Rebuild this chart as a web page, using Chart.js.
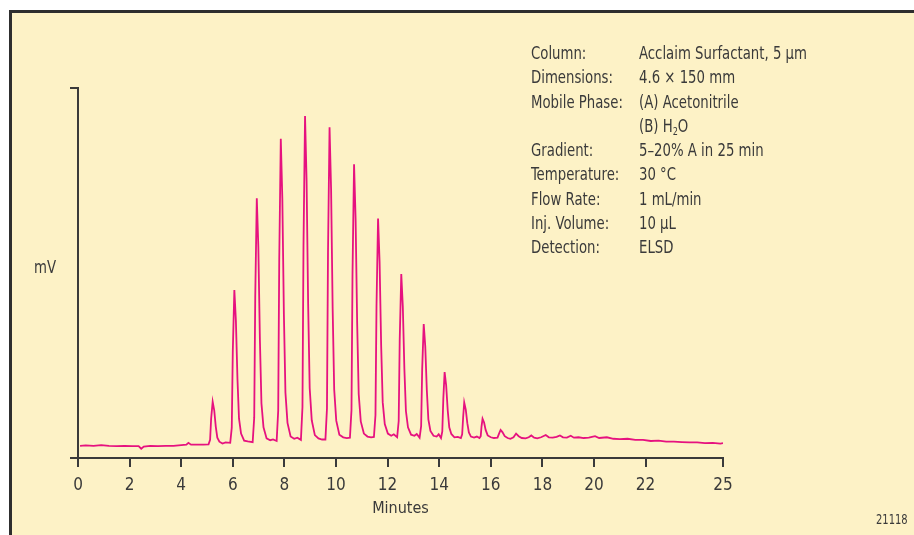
<!DOCTYPE html>
<html>
<head>
<meta charset="utf-8">
<script src="https://cdn.jsdelivr.net/npm/chart.js@4.4.1/dist/chart.umd.min.js"></script>
<style>
  html, body { margin: 0; padding: 0; background: #fff; width: 914px; height: 535px; overflow: hidden; }
  #frame { position: absolute; left: 9px; top: 10px; width: 920px; height: 540px;
           background: #fdf2c6; border-top: 3px solid #2e2e2e; border-left: 3px solid #2e2e2e; }
  #chart { position: absolute; left: 0; top: 0; }
  .txt { position: absolute; color: #3a3a3a; font-family: 'Liberation Sans Narrow', 'Arial Narrow', 'DejaVu Sans Condensed', sans-serif; font-size: 18px; white-space: nowrap;
         transform: scaleX(0.82); transform-origin: 0 0; }
  .info div { height: 24.3px; line-height: 24.3px; }
  sub { font-size: 11px; vertical-align: -3px; line-height: 0; }
</style>
</head>
<body>
<div id="frame"></div>
<canvas id="chart" width="914" height="535"></canvas>

<div class="txt" style="left:34px; top:256px;">mV</div>
<div class="txt info" style="left:531px; top:41px;">
  <div>Column:</div><div>Dimensions:</div><div>Mobile Phase:</div><div>&nbsp;</div>
  <div>Gradient:</div><div>Temperature:</div><div>Flow Rate:</div><div>Inj. Volume:</div><div>Detection:</div>
</div>
<div class="txt info" style="left:639px; top:41px;">
  <div>Acclaim Surfactant, 5 µm</div><div>4.6 × 150 mm</div><div>(A) Acetonitrile</div><div>(B) H<sub>2</sub>O</div>
  <div>5–20% A in 25 min</div><div>30 °C</div><div>1 mL/min</div><div>10 µL</div><div>ELSD</div>
</div>
<div class="txt" style="left:876px; top:511px; font-size:13.5px;">21118</div>

<script>
// retention time (min) and detector signal (mV, arbitrary)
const signalTime = [
  0.08, 0.3, 0.6, 0.9, 1.2, 1.5, 1.8, 2.1, 2.35, 2.45, 2.55, 2.8, 3.1, 3.4, 3.7, 4.0, 4.2, 4.28, 4.38, 4.6, 4.85,
  5.06, 5.12, 5.16, 5.22, 5.28, 5.34, 5.40, 5.48, 5.60, 5.72,
  5.90, 5.96, 6.00, 6.06, 6.12, 6.18, 6.24, 6.32, 6.44, 6.58,
  6.77, 6.83, 6.87, 6.93, 6.99, 7.05, 7.11, 7.19, 7.31, 7.45, 7.56,
  7.70, 7.76, 7.80, 7.86, 7.92, 7.98, 8.04, 8.12, 8.24, 8.38, 8.50,
  8.64, 8.70, 8.74, 8.80, 8.86, 8.92, 8.98, 9.06, 9.18, 9.32, 9.46,
  9.59, 9.65, 9.69, 9.75, 9.81, 9.87, 9.93, 10.01, 10.13, 10.28, 10.42,
  10.54, 10.60, 10.64, 10.70, 10.76, 10.82, 10.88, 10.96, 11.08, 11.22, 11.36,
  11.47, 11.53, 11.57, 11.63, 11.69, 11.75, 11.81, 11.89, 12.01, 12.14, 12.24,
  12.37, 12.43, 12.47, 12.53, 12.59, 12.65, 12.71, 12.79, 12.91, 13.04, 13.13,
  13.24, 13.30, 13.34, 13.40, 13.46, 13.52, 13.58, 13.66, 13.78, 13.90, 13.98,
  14.07, 14.12, 14.16, 14.21, 14.27, 14.33, 14.39, 14.47, 14.59, 14.72,
  14.84, 14.89, 14.93, 14.97, 15.03, 15.09, 15.15, 15.23, 15.35, 15.46,
  15.56, 15.61, 15.64, 15.68, 15.74, 15.80, 15.88, 16.00, 16.12,
  16.26, 16.32, 16.38, 16.45, 16.54, 16.65, 16.76,
  16.88, 16.98, 17.08, 17.20, 17.35,
  17.47, 17.57, 17.68, 17.80, 17.95,
  18.13, 18.25, 18.40, 18.55,
  18.68, 18.80, 18.95, 19.10, 19.22, 19.40, 19.60, 19.80, 20.04, 20.20, 20.50, 20.75,
  21.00, 21.30, 21.60, 21.90, 22.20, 22.50, 22.80, 23.10, 23.40, 23.70, 24.00, 24.30, 24.60, 24.90, 25.00
];
const signalMv = [
  3.3, 3.4, 3.3, 3.5, 3.3, 3.2, 3.3, 3.2, 3.2, 2.5, 3.1, 3.3, 3.2, 3.3, 3.3, 3.5, 3.6, 4.1, 3.6, 3.6, 3.6,
  3.7, 4.9, 10.6, 15.2, 12.9, 8.5, 5.5, 4.4, 3.9, 4.2,
  4.1, 8.2, 28.9, 45.4, 37.1, 21.5, 10.7, 6.6, 4.7, 4.5,
  4.3, 10.9, 43.8, 70.2, 57.0, 32.0, 14.8, 8.3, 5.3, 4.8, 5.0,
  4.6, 12.8, 53.6, 86.3, 70.0, 38.9, 17.7, 9.5, 5.8, 5.2, 5.5,
  4.9, 13.7, 57.4, 92.4, 74.9, 41.7, 18.9, 10.2, 6.2, 5.3, 5.0,
  5.0, 13.4, 55.6, 89.4, 72.5, 40.5, 18.5, 10.1, 6.3, 5.6, 5.4,
  5.5, 12.9, 49.8, 79.4, 64.6, 36.5, 17.3, 9.9, 6.6, 5.8, 5.6,
  5.7, 11.6, 41.1, 64.7, 52.9, 30.5, 15.1, 9.2, 6.6, 6.0, 6.4,
  5.6, 10.0, 32.1, 49.7, 40.9, 24.1, 12.7, 8.3, 6.3, 6.0, 6.5,
  5.5, 8.6, 23.9, 36.2, 30.1, 18.4, 10.4, 7.3, 6.0, 5.8, 6.4,
  5.4, 7.2, 16.1, 23.2, 19.6, 12.9, 8.3, 6.5, 5.6, 5.7,
  5.4, 6.4, 11.2, 15.0, 13.1, 9.4, 6.9, 5.8, 5.5, 5.8,
  5.4, 5.9, 8.5, 10.6, 9.6, 7.6, 6.1, 5.6, 5.4,
  5.5, 6.6, 7.6, 7.0, 5.9, 5.4, 5.2,
  5.6, 6.6, 5.9, 5.4, 5.3,
  5.6, 6.1, 5.5, 5.3, 5.6,
  6.2, 5.6, 5.5, 5.7,
  6.1, 5.6, 5.5, 6.0, 5.5, 5.6, 5.4, 5.5, 5.9, 5.4, 5.6, 5.2,
  5.1, 5.2, 4.9, 4.9, 4.6, 4.7, 4.4, 4.4, 4.3, 4.2, 4.2, 4.0, 4.1, 3.9, 4.0
];
const xTickValues = [0, 2, 4, 6, 8, 10, 12, 14, 16, 18, 20, 22, 25];
const yTickValues = [0, 100];

const FONT = "'Liberation Sans Narrow', 'Arial Narrow', 'DejaVu Sans Condensed', sans-serif";
const INK = '#3a3a3a';
Chart.defaults.font.family = FONT;

const points = signalTime.map((t, i) => ({ x: t, y: signalMv[i] }));

new Chart(document.getElementById('chart'), {
  type: 'line',
  data: {
    datasets: [{
      data: points,
      borderColor: '#e6127f',
      borderWidth: 1.8,
      pointRadius: 0,
      tension: 0,
      fill: false
    }]
  },
  options: {
    responsive: false,
    animation: false,
    layout: { padding: { left: 0, right: 191, top: 88, bottom: 0 } },
    plugins: { legend: { display: false }, tooltip: { enabled: false } },
    scales: {
      x: {
        type: 'linear', min: 0, max: 25,
        afterBuildTicks: s => { s.ticks = xTickValues.map(v => ({ value: v })); },
        afterFit: s => { s.height = 77; },
        grid: { drawOnChartArea: false, tickLength: 9, color: INK, lineWidth: 2 },
        border: { color: INK, width: 2 },
        ticks: { color: INK, font: { size: 17 }, padding: 8, maxRotation: 0, autoSkip: false },
        title: { display: true, text: 'Minutes', color: INK, font: { size: 16 }, padding: { top: 0, bottom: 17 } }
      },
      y: {
        min: 0, max: 100,
        afterBuildTicks: s => { s.ticks = yTickValues.map(v => ({ value: v })); },
        afterFit: s => { s.width = 78; },
        grid: { drawOnChartArea: false, tickLength: 8, color: INK, lineWidth: 2 },
        border: { color: INK, width: 2 },
        ticks: { display: false }
      }
    }
  }
});
</script>
</body>
</html>
